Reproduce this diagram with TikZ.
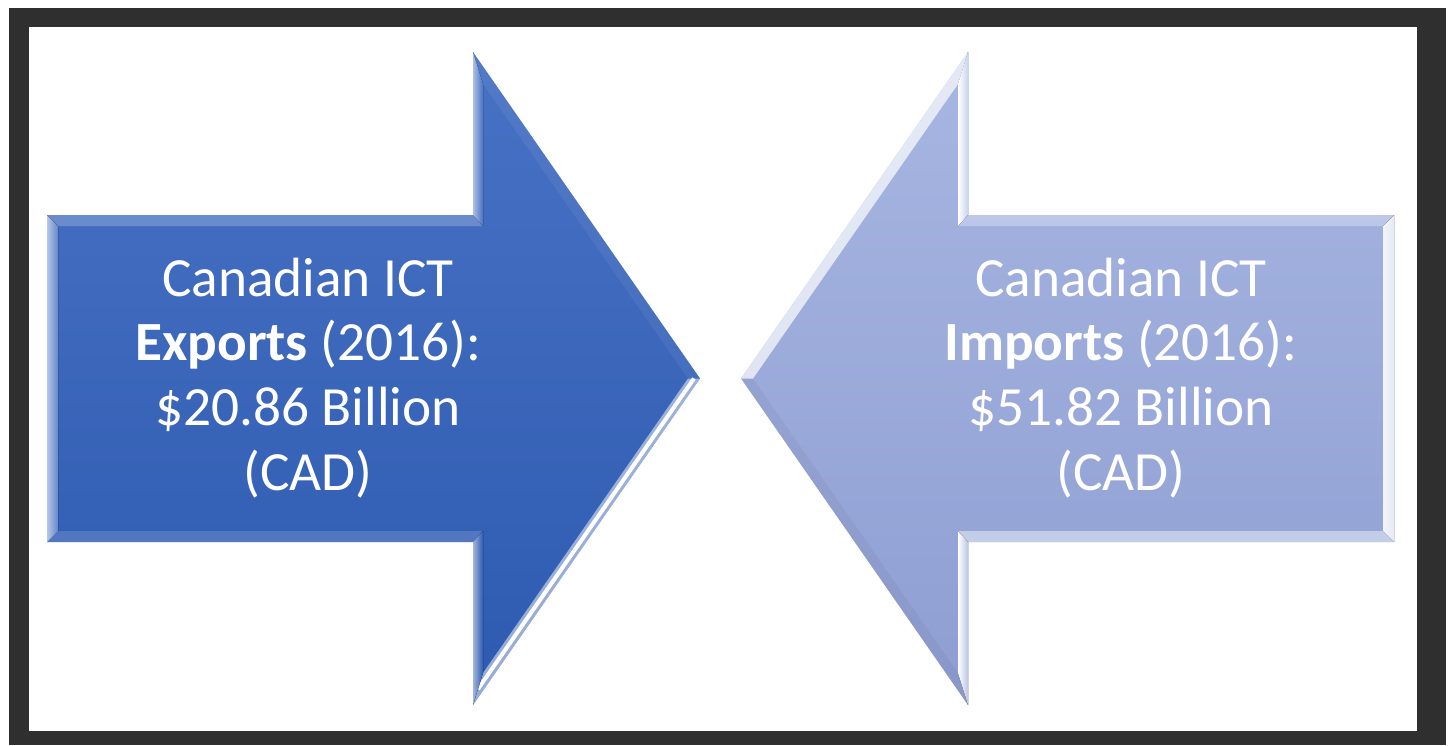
\documentclass[tikz,border=0pt]{standalone}
\usepackage{fontspec}
\setmainfont{Carlito}
\usetikzlibrary{calc}
\definecolor{framegray}{HTML}{2F2F2F}
\definecolor{expTop}{HTML}{4872C4}
\definecolor{expBot}{HTML}{2D5AB0}
\definecolor{impTop}{HTML}{A7B6E1}
\definecolor{impBot}{HTML}{8E9ED2}
\tikzset{
  arrowtext/.style={text=white, align=center, inner sep=0pt,
    font=\fontsize{55.5}{65}\selectfont},
  bevel/.style={draw=none},
}
\begin{document}
\begin{tikzpicture}[x=1bp,y=-1bp]
\useasboundingbox (0,0) rectangle (1452,745);
\fill[framegray] (9,8) rectangle (1446,745);
\fill[white] (29,27) rectangle (1417,731);

% ---------- left arrow (exports) ----------
\coordinate (LA) at (47,215);  \coordinate (LAi) at (58,226);
\coordinate (LB) at (473,215); \coordinate (LBi) at (483,226);
\coordinate (LC) at (473,52);  \coordinate (LCi) at (483,84);
\coordinate (LD) at (700,378.5); \coordinate (LDi) at (688,378.5);
\coordinate (LE) at (473,705); \coordinate (LEi) at (483,673);
\coordinate (LF) at (473,542); \coordinate (LFi) at (483,531);
\coordinate (LG) at (47,542);  \coordinate (LGi) at (58,531);
\shade[top color=expTop, bottom color=expBot]
  (LA) -- (LB) -- (LC) -- (LD) -- (LE) -- (LF) -- (LG) -- cycle;
\fill[bevel, color=white, opacity=0.22] (LA) -- (LB) -- (LBi) -- (LAi) -- cycle;
\fill[bevel, left color=white!60!expTop, right color=expTop!85!white] (LA) -- (LAi) -- (LGi) -- (LG) -- cycle;
\fill[bevel, color=white, opacity=0.15] (LG) -- (LF) -- (LFi) -- (LGi) -- cycle;
\fill[bevel, left color=white!55!expTop, right color=expTop] (LB) -- (LC) -- (LCi) -- (LBi) -- cycle;
\fill[bevel, color=white, opacity=0.06] (LC) -- (LD) -- (LDi) -- (LCi) -- cycle;
\fill[bevel, color=white, opacity=0.5] (LD) -- (LE) -- (LEi) -- (LDi) -- cycle;
\draw[white, line width=4bp] ($(LD)!0.5!(LDi)$) -- ($(LE)!0.5!(LEi)$);
\fill[bevel, left color=white!55!expBot, right color=expBot] (LE) -- (LF) -- (LFi) -- (LEi) -- cycle;

% ---------- right arrow (imports) ----------
\coordinate (RA) at (1394,215); \coordinate (RAi) at (1383,226);
\coordinate (RB) at (968,215);  \coordinate (RBi) at (958,226);
\coordinate (RC) at (968,52);   \coordinate (RCi) at (958,84);
\coordinate (RD) at (741,378.5); \coordinate (RDi) at (753,378.5);
\coordinate (RE) at (968,705);  \coordinate (REi) at (958,673);
\coordinate (RF) at (968,542);  \coordinate (RFi) at (958,531);
\coordinate (RG) at (1394,542); \coordinate (RGi) at (1383,531);
\shade[top color=impTop, bottom color=impBot]
  (RA) -- (RB) -- (RC) -- (RD) -- (RE) -- (RF) -- (RG) -- cycle;
\fill[bevel, color=white, opacity=0.30] (RA) -- (RB) -- (RBi) -- (RAi) -- cycle;
\fill[bevel, right color=white!70!impTop, left color=white!85!impTop] (RA) -- (RAi) -- (RGi) -- (RG) -- cycle;
\fill[bevel, color=white, opacity=0.45] (RG) -- (RF) -- (RFi) -- (RGi) -- cycle;
\fill[bevel, right color=white!40!impTop, left color=white] (RB) -- (RC) -- (RCi) -- (RBi) -- cycle;
\fill[bevel, color=white, opacity=0.7] (RC) -- (RD) -- (RDi) -- (RCi) -- cycle;
\fill[bevel, color=black, opacity=0.04] (RD) -- (RE) -- (REi) -- (RDi) -- cycle;
\fill[bevel, right color=white!40!impBot, left color=white] (RE) -- (RF) -- (RFi) -- (REi) -- cycle;

% ---------- texts ----------
\node[arrowtext] (exporttext) at (308,378)
  {Canadian ICT\\ \textbf{Exports} (2016):\\ \$20.86 Billion\\ (CAD)};
\node[arrowtext] (importtext) at (1121,378)
  {Canadian ICT\\ \textbf{Imports} (2016):\\ \$51.82 Billion\\ (CAD)};
\end{tikzpicture}
\end{document}
